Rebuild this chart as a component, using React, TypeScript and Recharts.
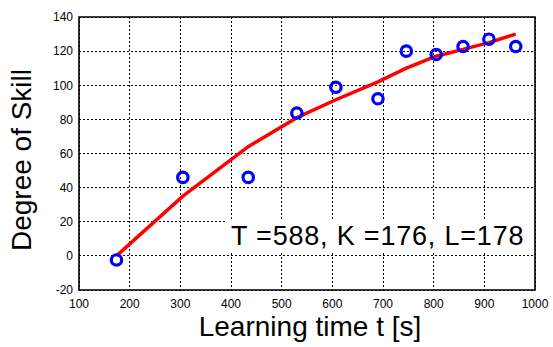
import React from "react";
import {
  ComposedChart,
  Line,
  Scatter,
  XAxis,
  YAxis,
  CartesianGrid,
  ReferenceArea,
} from "recharts";

// learning time t [s] of each trial and measured degree of skill
const trialTime = [174, 305, 434, 530, 607, 690, 746, 805, 858, 909, 962];
const measuredSkill = [-2.4, 46, 46, 83.7, 98.8, 92.1, 120, 118, 122.7, 127, 122.7];
// fitted learning curve, evaluated at the same times
const fittedSkill = [0, 35, 64, 81, 91.5, 102, 110, 117, 121, 125, 130];

const xTicks = [100, 200, 300, 400, 500, 600, 700, 800, 900, 1000];
const yTicks = [-20, 0, 20, 40, 60, 80, 100, 120, 140];
const fitLabel = "T =588, K =176, L=178";

const measured = trialTime.map((t, i) => ({ t, skill: measuredSkill[i] }));
const fitted = trialTime.map((t, i) => ({ t, skill: fittedSkill[i] }));

const FONT = '"Liberation Sans", Arial, sans-serif';

const Ring = (props: any) => {
  const { cx, cy } = props;
  if (cx == null || cy == null) return null;
  return <circle cx={cx} cy={cy} r={5.2} fill="none" stroke="#0000ff" strokeWidth={3.2} />;
};

export default function App() {
  return (
    <div style={{ position: "relative", width: 553, height: 347, background: "#fff", fontFamily: FONT, overflow: "hidden" }}>
      <style>{"body{margin:0} .recharts-cartesian-grid line{shape-rendering:crispEdges}"}</style>
      <ComposedChart
        width={553}
        height={347}
        margin={{ top: 17, right: 18, bottom: 0, left: 0 }}
        style={{ fontFamily: FONT }}
      >
        <CartesianGrid
          stroke="#000"
          strokeDasharray="2 2"
          strokeWidth={1}
          horizontalValues={yTicks}
          verticalValues={xTicks}
        />
        <XAxis
          type="number"
          dataKey="t"
          domain={[100, 1000]}
          ticks={xTicks}
          interval={0}
          axisLine={false}
          tickLine={false}
          height={57}
          tick={{ fill: "#000", fontSize: 12, fontFamily: FONT }}
          tickMargin={3}
          allowDataOverflow
        />
        <YAxis
          type="number"
          dataKey="skill"
          domain={[-20, 140]}
          ticks={yTicks}
          interval={0}
          axisLine={false}
          tickLine={false}
          width={79}
          tick={{ fill: "#000", fontSize: 12, fontFamily: FONT }}
          tickMargin={0}
          allowDataOverflow
        />
        <ReferenceArea
          x1={100}
          x2={1000}
          y1={-20}
          y2={140}
          fill="none"
          stroke="#000"
          strokeWidth={1.6}
          ifOverflow="visible"
        />
        <Line
          data={fitted}
          dataKey="skill"
          type="linear"
          stroke="#ff0000"
          strokeWidth={3.5}
          dot={false}
          isAnimationActive={false}
        />
        <Scatter data={measured} dataKey="skill" shape={Ring} isAnimationActive={false} />
      </ComposedChart>
      <div
        style={{
          position: "absolute",
          left: 226,
          top: 220,
          width: 307,
          height: 32,
          background: "#fff",
          fontSize: 27,
          letterSpacing: 0.8,
          lineHeight: "32px",
          paddingLeft: 5,
          boxSizing: "border-box",
          color: "#000",
          whiteSpace: "nowrap",
        }}
      >
        {fitLabel}
      </div>
      <div
        style={{
          position: "absolute",
          left: 0,
          width: 620,
          top: 310,
          textAlign: "center",
          fontSize: 28,
          lineHeight: "34px",
          color: "#000",
          whiteSpace: "nowrap",
        }}
      >
        Learning time t [s]
      </div>
      <div
        style={{
          position: "absolute",
          left: 22,
          top: 160,
          transform: "translate(-50%, -50%) rotate(-90deg)",
          fontSize: 28,
          lineHeight: "30px",
          color: "#000",
          whiteSpace: "nowrap",
        }}
      >
        Degree of Skill
      </div>
    </div>
  );
}
